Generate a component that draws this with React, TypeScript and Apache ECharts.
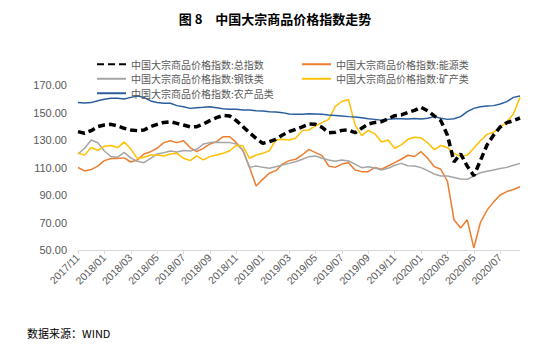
import React, { useEffect, useRef } from "react";
import * as echarts from "echarts";

// semi-monthly dates from 2017/11 to 2020/08
const months: string[] = [
  "2017/11", "2017/12",
  "2018/01", "2018/02", "2018/03", "2018/04", "2018/05", "2018/06", "2018/07", "2018/08", "2018/09", "2018/10", "2018/11", "2018/12",
  "2019/01", "2019/02", "2019/03", "2019/04", "2019/05", "2019/06", "2019/07", "2019/08", "2019/09", "2019/10", "2019/11", "2019/12",
  "2020/01", "2020/02", "2020/03", "2020/04", "2020/05", "2020/06", "2020/07", "2020/08",
];
const categories: string[] = [];
months.forEach((m) => {
  categories.push(m + "/01");
  categories.push(m + "/16");
});

const total = [136.1, 134.9, 136.8, 139.7, 140.9, 141.4, 140.2, 138.5, 137.3, 136.8,
  137.3, 139.7, 141.4, 142.8, 143.3, 142.1, 140.9, 139.6, 139.7, 141.6,
  144.1, 146.2, 147.9, 147.5, 144.1, 139.7, 135.3, 131.2, 127.6, 128.8,
  130.5, 133.6, 136.1, 137.8, 139.5, 141.6, 141.4, 139.2, 135.3, 135.6,
  137.0, 137.3, 135.3, 138.5, 141.6, 142.8, 143.3, 145.3, 147.7, 148.2,
  150.1, 151.5, 153.8, 151.3, 147.5, 144.1, 133.5, 114.0, 120.0, 111.0,
  104.0, 115.0, 126.4, 133.6, 139.5, 142.6, 144.1, 146.0];

const energy = [110.0, 107.5, 108.5, 111.0, 115.0, 116.5, 116.5, 117.0, 114.0, 115.5,
  119.8, 121.5, 124.0, 128.1, 129.5, 128.1, 129.5, 124.5, 121.5, 123.9,
  127.1, 128.8, 132.4, 132.4, 128.1, 122.2, 110.1, 96.5, 101.4, 105.8,
  107.7, 112.5, 115.0, 116.0, 119.1, 123.2, 120.8, 118.6, 111.1, 110.1,
  112.5, 113.5, 108.2, 107.0, 107.0, 110.1, 108.7, 111.1, 113.5, 116.0,
  118.9, 118.0, 121.5, 116.7, 110.6, 108.7, 100.0, 72.0, 66.0, 72.0,
  51.5, 70.0, 79.0, 85.0, 90.0, 92.5, 94.0, 96.0];

const steel = [119.8, 124.0, 130.0, 128.0, 122.0, 118.0, 117.5, 121.0, 117.0, 114.5,
  113.5, 116.7, 119.8, 120.8, 122.0, 121.3, 122.3, 122.0, 123.2, 127.1,
  128.1, 128.3, 128.1, 128.1, 127.1, 122.7, 110.1, 111.1, 110.1, 109.4,
  110.6, 111.8, 113.0, 114.2, 116.0, 117.9, 118.4, 116.7, 115.5, 114.5,
  115.5, 114.7, 112.5, 109.9, 110.6, 109.6, 108.2, 109.4, 111.6, 113.0,
  111.3, 111.1, 109.9, 107.7, 105.3, 103.8, 103.8, 102.8, 101.6, 101.4,
  103.8, 106.2, 107.2, 108.2, 109.2, 110.1, 111.6, 113.0];

const mineral = [120.5, 119.0, 124.5, 122.5, 125.5, 126.0, 124.5, 128.5, 123.5, 116.5,
  117.4, 119.1, 119.1, 118.4, 119.8, 120.3, 116.7, 115.0, 118.4, 115.5,
  117.9, 119.1, 120.3, 122.2, 126.1, 125.6, 116.7, 119.1, 120.3, 122.2,
  130.0, 130.5, 130.0, 131.2, 137.0, 137.3, 140.2, 142.6, 145.0, 154.5,
  158.0, 159.5, 141.0, 133.2, 137.0, 134.5, 128.5, 130.0, 124.0, 126.5,
  130.5, 132.0, 131.5, 128.0, 123.0, 126.0, 124.5, 120.3, 118.0, 119.0,
  124.0, 129.5, 134.1, 135.6, 139.2, 143.3, 148.9, 161.0];

const agri = [157.2, 156.9, 157.2, 158.6, 159.6, 160.3, 160.3, 159.8, 161.0, 162.0,
  161.0, 158.4, 157.2, 156.7, 156.7, 155.0, 154.2, 153.0, 153.5, 153.8,
  154.2, 153.5, 152.8, 152.3, 152.3, 151.8, 151.8, 151.3, 151.1, 150.6,
  150.4, 149.9, 148.9, 148.7, 148.8, 149.1, 148.9, 148.7, 148.2, 147.9,
  147.5, 147.0, 146.7, 146.2, 145.5, 145.0, 144.3, 145.0, 145.5, 145.5,
  145.3, 145.6, 145.3, 145.8, 147.0, 145.8, 145.0, 145.5, 147.0, 150.6,
  153.0, 154.2, 154.7, 155.0, 156.2, 157.9, 161.0, 162.0];

const N_TOTAL = "中国大宗商品价格指数:总指数";
const N_ENERGY = "中国大宗商品价格指数:能源类";
const N_STEEL = "中国大宗商品价格指数:钢铁类";
const N_MINERAL = "中国大宗商品价格指数:矿产类";
const N_AGRI = "中国大宗商品价格指数:农产品类";

const CJK = "Noto Sans CJK SC";
const NUM = "Liberation Sans";

export default function App() {
  const ref = useRef<HTMLDivElement>(null);
  useEffect(() => {
    document.body.style.margin = "0";
    const chart = echarts.init(ref.current!, null, { renderer: "svg" });
    const line = (name: string, data: number[], color: string, width: number, z: number, type: any = "solid") => ({
      name,
      type: "line",
      data,
      symbol: "none",
      showSymbol: false,
      z,
      lineStyle: { color, width, type, cap: "butt" },
      itemStyle: { color },
    });
    const legendCommon = {
      orient: "vertical",
      top: 52,
      itemWidth: 29,
      itemHeight: 10,
      itemGap: 0,
      itemStyle: { opacity: 0 },
      textStyle: { fontSize: 10, color: "#595959", fontFamily: CJK, lineHeight: 14.5 },
    };
    chart.setOption({
      animation: false,
      title: {
        text: "图 8　中国大宗商品价格指数走势",
        left: "center",
        top: 7,
        textStyle: { fontSize: 13, fontWeight: "bold", color: "#000", fontFamily: CJK },
      },
      legend: [
        { ...legendCommon, left: 91, data: [N_TOTAL, N_STEEL, N_AGRI] },
        { ...legendCommon, left: 296, data: [N_ENERGY, N_MINERAL] },
      ],
      grid: { left: 78, right: 30, top: 85, bottom: 103 },
      xAxis: {
        type: "category",
        data: categories,
        boundaryGap: false,
        axisLine: { lineStyle: { color: "#D9D9D9" } },
        axisTick: { interval: 3, length: 4, lineStyle: { color: "#D9D9D9" } },
        axisLabel: {
          interval: 3,
          rotate: 45,
          fontSize: 10.5,
          color: "#595959",
          fontFamily: NUM,
          margin: 6,
          formatter: (v: string) => v.slice(0, 7),
        },
      },
      yAxis: {
        type: "value",
        min: 50,
        max: 170,
        interval: 20,
        splitLine: { show: false },
        axisLine: { show: false },
        axisTick: { show: false },
        axisLabel: {
          fontSize: 11,
          color: "#595959",
          fontFamily: NUM,
          margin: 11,
          align: "right",
          formatter: (v: number) => v.toFixed(2),
        },
      },
      series: [
        line(N_TOTAL, total, "#000000", 3.5, 5, [7, 4]),
        line(N_ENERGY, energy, "#ED7D31", 1.5, 2),
        line(N_STEEL, steel, "#A5A5A5", 1.5, 2),
        line(N_MINERAL, mineral, "#FFC000", 1.5, 2),
        line(N_AGRI, agri, "#2A5D9F", 1.5, 2),
      ],
      graphic: [
        {
          type: "text",
          left: 27,
          top: 327,
          style: { text: "数据来源：WIND", fontSize: 11, fill: "#000", fontFamily: CJK },
        },
      ],
    });
    return () => chart.dispose();
  }, []);
  return <div ref={ref} style={{ width: 550, height: 353 }} />;
}
